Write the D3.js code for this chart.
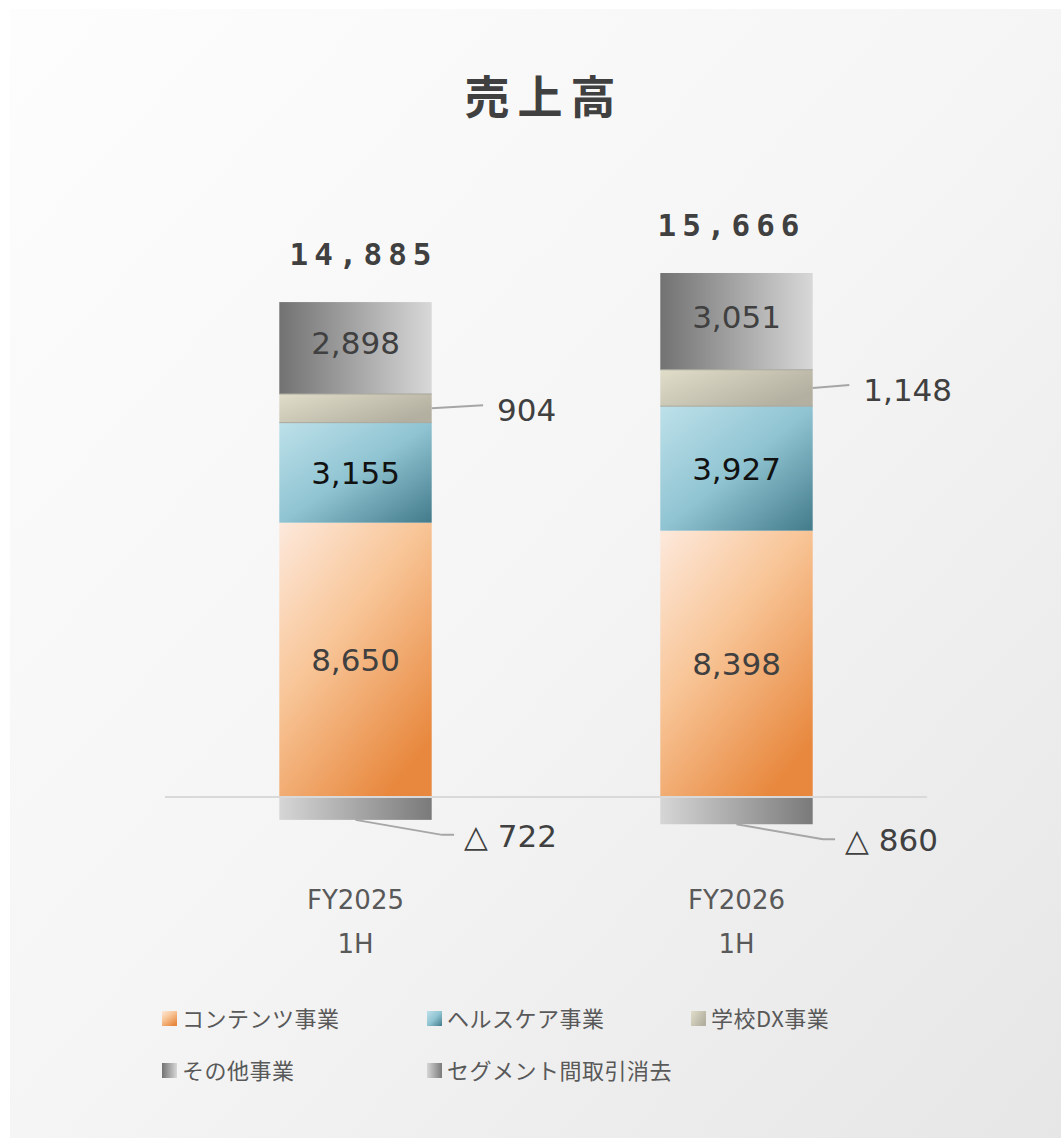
<!DOCTYPE html>
<html><head><meta charset="utf-8">
<script src="https://cdn.jsdelivr.net/npm/d3@7"></script>
<style>
html,body{margin:0;padding:0;background:#fff;}
svg{display:block;}
</style></head>
<body>
<svg id="chart" width="1061" height="1138"></svg>
<script>
// ---- data ----
const title = "売上高";
const catLine1 = ["FY2025", "FY2026"];
const catLine2 = ["1H", "1H"];
const seriesNames = ["コンテンツ事業", "ヘルスケア事業", "学校DX事業", "その他事業", "セグメント間取引消去"];
const contents = [8650, 8398];
const healthcare = [3155, 3927];
const schoolDX = [904, 1148];
const others = [2898, 3051];
const elimination = [-722, -860];
const totals = [14885, 15666];

// ---- setup ----
const svg = d3.select("#chart");
const W = 1061, H = 1138;
const defs = svg.append("defs");

function lg(id, x2, y2, stops) {
  const g = defs.append("linearGradient").attr("id", id)
    .attr("x1", 0).attr("y1", 0).attr("x2", x2).attr("y2", y2);
  stops.forEach(s => g.append("stop").attr("offset", s[0]).attr("stop-color", s[1]));
}
lg("bg", 1, 1, [[0, "#fdfdfd"], [0.5, "#f5f5f5"], [1, "#e6e6e6"]]);
lg("g0", 0.7, 1, [[0, "#fde9dc"], [0.45, "#f8c597"], [1, "#e8883e"]]);
lg("g1", 1, 1, [[0, "#bde1ea"], [0.5, "#90c4d2"], [1, "#437b8b"]]);
lg("g2", 1, 0.6, [[0, "#e0ddc9"], [1, "#b3b0a1"]]);
lg("g3", 1, 0, [[0, "#727272"], [1, "#d8d8d8"]]);
lg("g4", 1, 0, [[0, "#d6d6d6"], [1, "#7a7a7a"]]);
const fills = ["url(#g0)", "url(#g1)", "url(#g2)", "url(#g3)", "url(#g4)"];

// background panel
svg.append("rect").attr("x", 10).attr("y", 9).attr("width", W - 10).attr("height", H - 9)
  .attr("fill", "url(#bg)");

// title
svg.append("text").attr("x", 544).attr("y", 114).attr("text-anchor", "middle")
  .attr("font-family", "'Noto Sans CJK JP'").attr("font-weight", 700)
  .attr("font-size", 45).attr("letter-spacing", 8).attr("fill", "#404040").text(title);

// scales
const x = d3.scaleBand().domain(catLine1).range([165, 927]).paddingInner(0.6).paddingOuter(0.3);
const y = d3.scaleLinear().domain([-2000, 18000]).range([860.4, 226.2]);

// stack
const rows = catLine1.map((c, i) => ({
  cat: c, s0: contents[i], s1: healthcare[i], s2: schoolDX[i], s3: others[i], s4: elimination[i]
}));
const keys = ["s0", "s1", "s2", "s3", "s4"];
const stacked = d3.stack().keys(keys).offset(d3.stackOffsetDiverging)(rows);

// bars
const gBars = svg.append("g");
stacked.forEach((layer, si) => {
  gBars.selectAll(null).data(layer).enter().append("rect")
    .attr("x", d => x(d.data.cat))
    .attr("width", x.bandwidth())
    .attr("y", d => y(Math.max(d[0], d[1])))
    .attr("height", d => Math.abs(y(d[0]) - y(d[1])))
    .attr("fill", fills[si]);
});
// thin separators around school DX segment
stacked[2].forEach(d => {
  [d[0], d[1]].forEach(v => {
    gBars.append("line").attr("x1", x(d.data.cat)).attr("x2", x(d.data.cat) + x.bandwidth())
      .attr("y1", y(v)).attr("y2", y(v)).attr("stroke", "#a9a79c").attr("stroke-width", 1);
  });
});
// zero line
svg.append("line").attr("x1", 165).attr("x2", 927).attr("y1", y(0)).attr("y2", y(0))
  .attr("stroke", "#d9d9d9").attr("stroke-width", 2);

const fmt = d3.format(",");
const numFont = "'DejaVu Sans', Verdana, sans-serif";

// inside labels (series 0,1,3)
[0, 1, 3].forEach(si => {
  svg.append("g").selectAll("text").data(stacked[si]).enter().append("text")
    .attr("x", d => x(d.data.cat) + x.bandwidth() / 2)
    .attr("y", d => (y(d[0]) + y(d[1])) / 2 + (si === 3 ? -5 : 0))
    .attr("dy", "0.36em")
    .attr("text-anchor", "middle")
    .attr("font-family", numFont).attr("font-size", 31)
    .attr("fill", si === 1 ? "#111" : "#404040")
    .text(d => fmt(d[1] - d[0]));
});

// school DX outside labels with leaders
stacked[2].forEach(d => {
  const right = x(d.data.cat) + x.bandwidth();
  const my = (y(d[0]) + y(d[1])) / 2;
  const t = svg.append("text")
    .attr("x", right + 95).attr("y", my + 2).attr("dy", "0.36em")
    .attr("text-anchor", "middle")
    .attr("font-family", numFont).attr("font-size", 31).attr("fill", "#404040")
    .text(fmt(d[1] - d[0]));
  const tw = t.node().getComputedTextLength();
  svg.append("line").attr("x1", right).attr("y1", my)
    .attr("x2", right + 95 - tw / 2 - 14).attr("y2", my - 3)
    .attr("stroke", "#a6a6a6").attr("stroke-width", 2);
});

// elimination labels with leaders
stacked[4].forEach(d => {
  const cx = x(d.data.cat) + x.bandwidth() / 2;
  const bottom = y(d[0]);
  const ly = bottom + 16;
  const t = svg.append("text")
    .attr("x", cx + 155).attr("y", ly).attr("dy", "0.36em")
    .attr("text-anchor", "middle")
    .attr("font-family", numFont).attr("font-size", 31).attr("fill", "#404040")
    .text("△ " + fmt(Math.abs(d[1] - d[0])));
  const tw = t.node().getComputedTextLength();
  const start = cx + 155 - tw / 2;
  svg.append("polyline")
    .attr("points", [[cx, bottom], [start - 22, ly - 1], [start - 10, ly - 1]].map(p => p.join(",")).join(" "))
    .attr("fill", "none").attr("stroke", "#a6a6a6").attr("stroke-width", 2);
});

// totals
const totalShift = [5, -8];
svg.append("g").selectAll("text").data(rows).enter().append("text")
  .attr("x", (d, i) => x(d.cat) + x.bandwidth() / 2 + totalShift[i] + 3)
  .attr("y", (d, i) => y(d.s0 + d.s1 + d.s2 + d.s3) - 37)
  .attr("text-anchor", "middle")
  .attr("font-family", "'DejaVu Sans Mono', monospace").attr("font-weight", 700)
  .attr("font-size", 31).attr("letter-spacing", 6).attr("fill", "#404040")
  .text((d, i) => fmt(totals[i]));

// category labels
const axisG = svg.append("g");
catLine1.forEach((c, i) => {
  const cx = x(c) + x.bandwidth() / 2;
  axisG.append("text").attr("x", cx).attr("y", 909).attr("text-anchor", "middle")
    .attr("font-family", numFont).attr("font-size", 26).attr("fill", "#595959").text(c);
  axisG.append("text").attr("x", cx).attr("y", 953).attr("text-anchor", "middle")
    .attr("font-family", numFont).attr("font-size", 26).attr("fill", "#595959").text(catLine2[i]);
});

// legend
const legPos = [[162, 1011], [427, 1011], [691, 1011], [162, 1063], [427, 1063]];
const leg = svg.append("g");
seriesNames.forEach((n, i) => {
  const [lx, ly] = legPos[i];
  leg.append("rect").attr("x", lx).attr("y", ly).attr("width", 15).attr("height", 15).attr("fill", fills[i]);
  leg.append("text").attr("x", lx + 20).attr("y", ly + 8).attr("dy", "0.36em")
    .attr("font-family", "'Noto Sans CJK JP'").attr("font-size", 22).attr("letter-spacing", 0.5)
    .attr("fill", "#595959").text(n);
});
</script>
</body></html>
